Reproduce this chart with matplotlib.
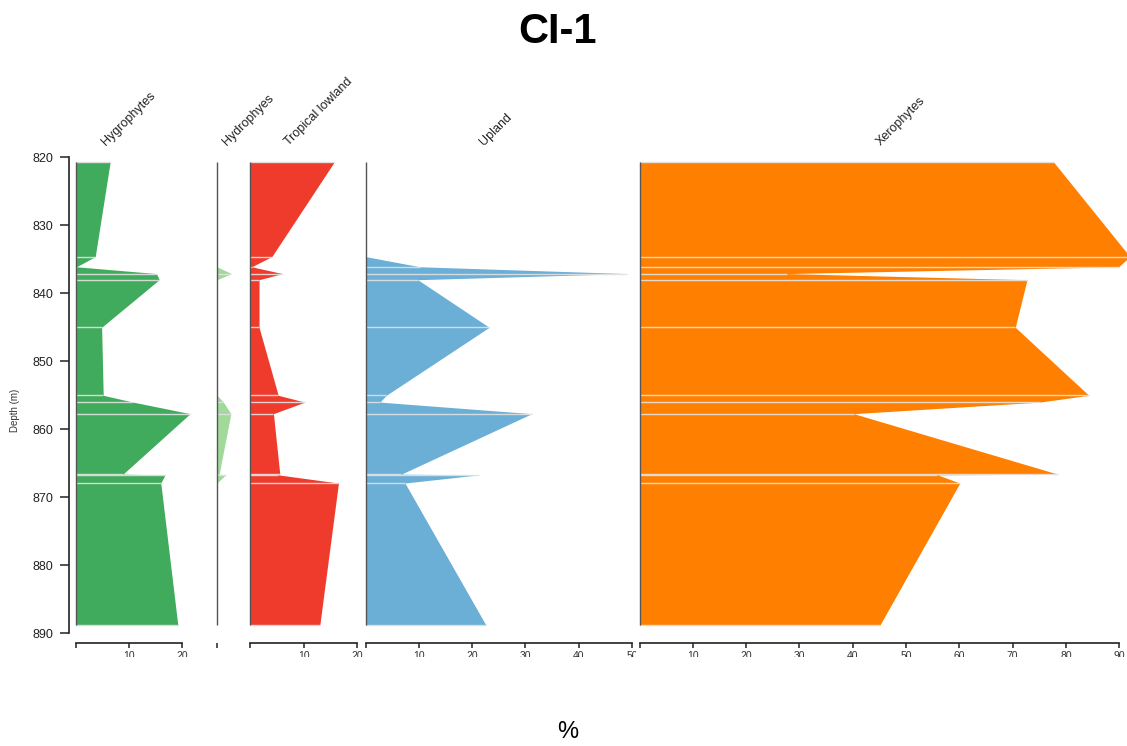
import matplotlib
matplotlib.use("Agg")
import matplotlib.pyplot as plt
from matplotlib.transforms import Bbox, TransformedBbox, blended_transform_factory

plt.rcParams['font.family'] = ['Liberation Sans', 'DejaVu Sans']

# Sample depths (m) and percentage of each ecological group
depths = [820.7, 834.6, 836.1, 837.1, 838.0, 845.0, 855.0, 856.0, 857.7,
          866.6, 866.7, 867.9, 888.8]
hygrophytes = [6.5, 3.7, 0.2, 15.2, 15.7, 4.9, 5.2, 10.8, 21.5, 8.9, 16.8, 16.0, 19.2]
hydrophytes = [0.0, 0.0, 0.0, 2.7, 0.0, 0.0, 0.0, 1.2, 2.6, 0.4, 1.6, 0.0, 0.0]
tropical_lowland = [15.7, 4.0, 0.2, 6.0, 1.6, 1.6, 5.2, 10.2, 4.3, 5.5, 5.2, 16.5, 13.0]
upland = [0.0, 0.0, 10.2, 49.0, 9.8, 23.2, 3.9, 2.7, 31.2, 6.7, 21.3, 7.4, 22.6]
xerophytes = [77.7, 92.0, 89.9, 27.7, 72.7, 70.5, 84.3, 75.1, 40.2, 78.5, 55.9, 60.1, 45.1]

group_names = ["Hygrophytes", "Hydrophyes", "Tropical lowland", "Upland", "Xerophytes"]
group_values = [hygrophytes, hydrophytes, tropical_lowland, upland, xerophytes]
group_colors = ["#41ab5d", "#a1d99b", "#ef3b2c", "#6baed6", "#ff8000"]
axis_max = [20, 0, 20, 50, 90]
depth_ticks = [820, 830, 840, 850, 860, 870, 880, 890]

# ---- layout (pixels) ----
W, H = 1127, 746
PX_PER_PCT = 5.33
TOP_PX, BOT_PX = 157.3, 633.3
panel_px = [(75.5, 217.0), (217.0, 250.5), (250.5, 363.0), (365.5, 636.0), (639.5, 1127.0)]
label_offset = [30.5, 10.0, 38.5, 118.5, 241.5]
AXIS_GAP_PT = 7.2


def fx(px):
    return px / W


def fy(py):
    return 1 - py / H


fig = plt.figure(figsize=(W / 100, H / 100), dpi=100)
fig.patch.set_facecolor("white")

axes = []
for i, (name, vals, col, amax) in enumerate(zip(group_names, group_values,
                                                 group_colors, axis_max)):
    x0, x1 = panel_px[i]
    ax = fig.add_axes([fx(x0), fy(BOT_PX), (x1 - x0) / W, (BOT_PX - TOP_PX) / H])
    ax.set_xlim(0, (x1 - x0) / PX_PER_PCT)
    ax.set_ylim(890, 820)
    ax.patch.set_visible(False)

    ax.fill_betweenx(depths, 0, vals, color=col, lw=0, zorder=2)
    ax.hlines(depths, 0, vals, color="#e2e2e2", lw=1.0, alpha=0.9, zorder=3)
    ax.vlines(0, depths[0], depths[-1], color="#555555", lw=1.0, zorder=4,
              clip_on=False)

    for s in ("top", "right", "left"):
        ax.spines[s].set_visible(False)
    sp = ax.spines["bottom"]
    sp.set_position(("outward", AXIS_GAP_PT))
    sp.set_color("#222222")
    sp.set_linewidth(1.2)
    if amax > 0:
        ticks = list(range(0, amax + 1, 10))
        sp.set_bounds(0, amax)
    else:
        ticks = [0]
        sp.set_bounds(0, 0.05)
    ax.set_xticks(ticks)
    ax.tick_params(axis="x", direction="out", length=3.5, width=1.1,
                   color="#222222", labelbottom=False)
    ax.set_yticks([])

    # tick labels, cut off by the panel extent
    clip = TransformedBbox(Bbox.from_extents(fx(x0), fy(657), fx(x1), fy(640)),
                           fig.transFigure)
    trans = blended_transform_factory(ax.transData, fig.transFigure)
    for t in ticks[1:]:
        fig.text(t, fy(651), str(t), transform=trans, ha="center", va="top",
                 fontsize=7.5, color="#333333", clip_box=clip, clip_on=True)

    # rotated group name above the panel
    fig.text(fx(x0 + label_offset[i]), fy(146), name, rotation=45,
             rotation_mode="anchor", ha="left", va="baseline",
             fontsize=9, color="#222222")
    axes.append(ax)

# depth axis on the first panel
ax0 = axes[0]
lsp = ax0.spines["left"]
lsp.set_visible(True)
lsp.set_position(("outward", 4.7))
lsp.set_bounds(820, 890)
lsp.set_color("#222222")
lsp.set_linewidth(1.2)
ax0.set_yticks(depth_ticks)
ax0.set_yticklabels([str(d) for d in depth_ticks])
ax0.tick_params(axis="y", direction="out", length=6.5, width=1.1,
                color="#222222", labelsize=9, labelcolor="#222222", pad=5)

fig.text(fx(15), fy(410), "Depth (m)", rotation=90, fontsize=7,
         ha="center", va="center", color="#333333")
fig.text(fx(558), fy(32), "CI-1", fontsize=30, fontweight="bold",
         ha="center", va="center", color="black")
fig.text(fx(568), fy(732), "%", fontsize=17, ha="center", va="center",
         color="black")

fig.savefig("out.png", dpi=100, facecolor="white")
